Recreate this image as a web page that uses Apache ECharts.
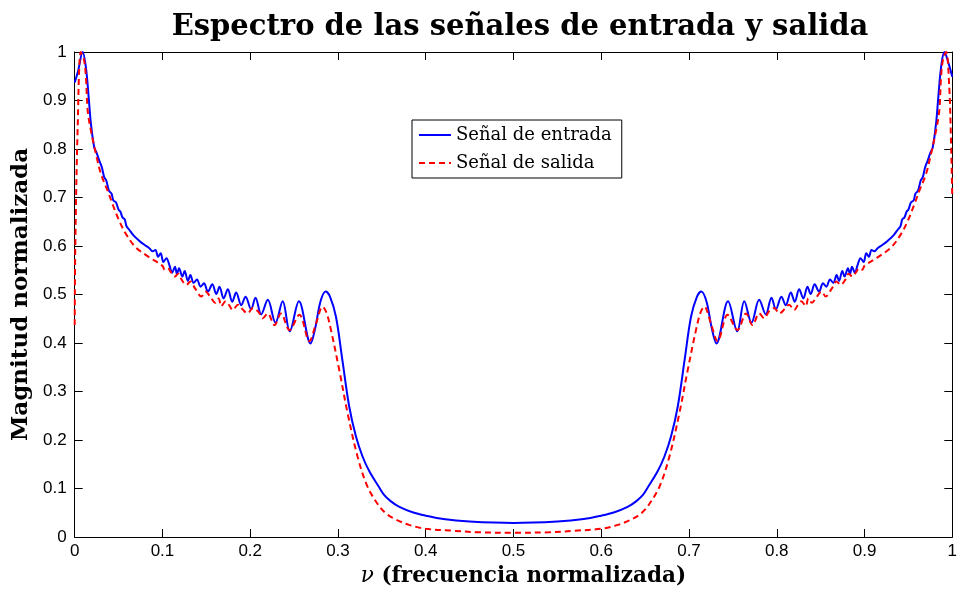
<!DOCTYPE html>
<html>
<head>
<meta charset="utf-8">
<script src="https://cdn.jsdelivr.net/npm/echarts@6/dist/echarts.min.js"></script>
<style>html,body{margin:0;padding:0;background:#fff}#c{width:960px;height:594px}</style>
</head>
<body>
<div id="c"></div>
<script>
// Normalized frequency values for the input signal (blue)
const freqIn = [0,0.004,0.009,0.0128,0.0159,0.0185,0.0223,0.025,0.028,0.031,0.0336,0.036,0.039,0.042,0.044,0.047,0.050,0.052,0.0545,0.057,0.059,0.062,0.067,0.0734,0.079,0.0848,0.089,0.092,0.095,0.098,0.101,0.1045,0.108,0.111,0.1143,0.1165,0.1189,0.1227,0.1253,0.129,0.1318,0.1356,0.1393,0.1435,0.1473,0.1518,0.1568,0.1614,0.165,0.1697,0.1745,0.1795,0.184,0.1898,0.1947,0.201,0.206,0.2125,0.22,0.2288,0.237,0.245,0.2555,0.2688,0.274,0.280,0.286,0.291,0.2977,0.305,0.3128,0.3205,0.328,0.3356,0.346,0.352,0.36,0.37,0.385,0.40,0.42,0.45,0.5,
0.55,0.58,0.60,0.615,0.63,0.64,0.648,0.654,0.6644,0.672,0.6795,0.6872,0.695,0.7023,0.709,0.714,0.720,0.726,0.7312,0.7445,0.755,0.763,0.7712,0.78,0.7875,0.794,0.799,0.8053,0.8102,0.816,0.8205,0.8255,0.8303,0.835,0.8386,0.8432,0.8482,0.8527,0.8565,0.8607,0.8644,0.8682,0.871,0.8747,0.8773,0.8811,0.8835,0.8857,0.889,0.892,0.8955,0.899,0.902,0.905,0.908,0.911,0.9152,0.921,0.9266,0.933,0.938,0.941,0.943,0.9455,0.948,0.950,0.953,0.956,0.958,0.961,0.964,0.9664,0.969,0.972,0.975,0.9777,0.9815,0.9841,0.9872,0.991,0.996,1.0];
const magIn = [0.937,0.962,1.0,0.968,0.907,0.852,0.803,0.792,0.776,0.762,0.742,0.735,0.714,0.708,0.694,0.690,0.675,0.671,0.659,0.655,0.641,0.634,0.622,0.611,0.603,0.596,0.589,0.592,0.578,0.585,0.567,0.575,0.560,0.545,0.557,0.542,0.554,0.537,0.5485,0.528,0.540,0.524,0.531,0.516,0.523,0.506,0.521,0.501,0.516,0.492,0.511,0.485,0.504,0.478,0.4955,0.4695,0.4935,0.459,0.489,0.442,0.486,0.424,0.486,0.399,0.43,0.485,0.506,0.495,0.454,0.365,0.269,0.207,0.166,0.136,0.105,0.088,0.074,0.062,0.051,0.044,0.037,0.032,0.029,
0.032,0.037,0.044,0.051,0.062,0.074,0.088,0.105,0.136,0.166,0.207,0.269,0.365,0.454,0.495,0.506,0.485,0.43,0.399,0.486,0.424,0.486,0.442,0.489,0.459,0.4935,0.4695,0.4955,0.478,0.504,0.485,0.511,0.492,0.516,0.501,0.521,0.506,0.523,0.516,0.531,0.524,0.540,0.528,0.5485,0.537,0.554,0.542,0.557,0.545,0.560,0.575,0.567,0.585,0.578,0.592,0.589,0.596,0.603,0.611,0.622,0.634,0.641,0.655,0.659,0.671,0.675,0.690,0.694,0.708,0.714,0.735,0.742,0.762,0.776,0.792,0.803,0.852,0.907,0.968,1.0,0.975,0.949];

// Normalized frequency values for the output signal (red, dashed)
const freqOut = [0,0.0007,0.0034,0.007,0.0105,0.0128,0.0148,0.0185,0.0242,0.03,0.0375,0.043,0.0507,0.0583,0.0697,0.0848,0.1,0.1026,0.106,0.110,0.114,0.118,0.122,0.1273,0.132,0.137,0.1443,0.149,0.155,0.160,0.164,0.167,0.172,0.176,0.180,0.186,0.191,0.197,0.203,0.209,0.2143,0.220,0.2276,0.235,0.2447,0.256,0.2674,0.275,0.2825,0.287,0.292,0.3015,0.311,0.3223,0.3336,0.346,0.355,0.366,0.381,0.4,0.43,0.46,0.5,
0.54,0.57,0.6,0.619,0.634,0.645,0.654,0.6664,0.6777,0.689,0.6985,0.708,0.713,0.7175,0.725,0.7326,0.744,0.7553,0.765,0.7724,0.780,0.7857,0.791,0.797,0.803,0.809,0.814,0.820,0.824,0.828,0.833,0.836,0.840,0.845,0.851,0.8557,0.863,0.868,0.8727,0.878,0.882,0.886,0.890,0.894,0.8974,0.9,0.9152,0.9303,0.9417,0.9493,0.957,0.9625,0.97,0.9758,0.9815,0.9852,0.9872,0.9895,0.993,0.9965,0.9985,1.0];
const magOut = [0.437,0.60,0.845,1.0,0.985,0.948,0.879,0.838,0.79,0.748,0.714,0.687,0.652,0.625,0.597,0.577,0.559,0.551,0.554,0.545,0.537,0.543,0.530,0.520,0.527,0.513,0.496,0.506,0.494,0.483,0.492,0.476,0.486,0.478,0.468,0.479,0.470,0.461,0.472,0.465,0.451,0.461,0.437,0.461,0.427,0.458,0.404,0.44,0.475,0.462,0.427,0.344,0.255,0.166,0.104,0.066,0.048,0.036,0.025,0.017,0.013,0.0097,0.0089,
0.0097,0.013,0.017,0.025,0.036,0.048,0.066,0.104,0.166,0.255,0.344,0.427,0.462,0.475,0.44,0.404,0.458,0.427,0.461,0.437,0.461,0.451,0.465,0.472,0.461,0.470,0.479,0.468,0.478,0.486,0.476,0.492,0.483,0.494,0.506,0.496,0.513,0.527,0.520,0.530,0.543,0.537,0.545,0.554,0.551,0.559,0.577,0.597,0.625,0.652,0.687,0.714,0.748,0.79,0.838,0.879,0.948,0.985,1.0,0.93,0.82,0.70];

const tickValues = [0,0.1,0.2,0.3,0.4,0.5,0.6,0.7,0.8,0.9,1];
const titleText = 'Espectro de las señales de entrada y salida';
const xName = '{i|ν} (frecuencia normalizada)';
const yName = 'Magnitud normalizada';
const seriesNames = ['Señal de entrada', 'Señal de salida'];

const pairs = (xs, ys) => xs.map((x, i) => [x, ys[i]]);
const fmt = v => String(+v.toFixed(1));
const SERIF = 'DejaVu Serif';

const axisCommon = {
  type: 'value', min: tickValues[0], max: tickValues[tickValues.length - 1], interval: 0.1,
  axisLine: { show: true, onZero: false, lineStyle: { color: '#000', width: 1 } },
  axisTick: { show: true, inside: true, length: 8, lineStyle: { color: '#000', width: 1 } },
  splitLine: { show: false }
};

const chart = echarts.init(document.getElementById('c'), null, { renderer: 'canvas' });
chart.setOption({
  animation: false,
  backgroundColor: '#fff',
  title: {
    text: titleText, left: 515, top: 8, textAlign: 'center',
    textStyle: { fontFamily: SERIF, fontWeight: 'bold', fontSize: 29, color: '#000' }
  },
  grid: { left: 74.7, right: 5.3, top: 52, bottom: 57, containLabel: false },
  legend: {
    data: seriesNames,
    orient: 'vertical', left: 412, top: 120,
    backgroundColor: '#fff', borderColor: '#000', borderWidth: 1, borderRadius: 0,
    padding: [6, 10, 6, 6], itemGap: 10, itemWidth: 32, itemHeight: 14,
    itemStyle: { opacity: 0 },
    textStyle: { fontFamily: SERIF, fontSize: 18, color: '#000' }
  },
  xAxis: [
    Object.assign({}, axisCommon, {
      position: 'bottom',
      name: xName, nameLocation: 'middle', nameGap: 28,
      nameTextStyle: { fontFamily: SERIF, fontWeight: 'bold', fontSize: 21.5, color: '#000', padding: [0, 0, 0, 20],
        rich: { i: { fontFamily: SERIF, fontStyle: 'italic', fontWeight: 'normal', fontSize: 21.5, color: '#000' } } },
      axisLabel: { show: true, margin: 6, fontFamily: 'Liberation Sans', fontSize: 17, color: '#000', formatter: fmt }
    }),
    Object.assign({}, axisCommon, { position: 'top', axisLabel: { show: false } })
  ],
  yAxis: [
    Object.assign({}, axisCommon, {
      position: 'left',
      name: yName, nameLocation: 'middle', nameGap: 41,
      nameTextStyle: { fontFamily: SERIF, fontWeight: 'bold', fontSize: 23, color: '#000' },
      axisLabel: { show: true, margin: 8, fontFamily: 'Liberation Sans', fontSize: 17, color: '#000', formatter: fmt }
    }),
    Object.assign({}, axisCommon, { position: 'right', axisLabel: { show: false } })
  ],
  series: [
    {
      name: seriesNames[0], type: 'line', symbol: 'none', smooth: 0.35,
      data: pairs(freqIn, magIn),
      lineStyle: { color: '#0000ff', width: 2 }, itemStyle: { color: '#0000ff' }, z: 2
    },
    {
      name: seriesNames[1], type: 'line', symbol: 'none', smooth: 0.35,
      data: pairs(freqOut, magOut),
      lineStyle: { color: '#ff0000', width: 2, type: [6, 4] }, itemStyle: { color: '#ff0000' }, z: 3
    }
  ]
});
</script>
</body>
</html>
